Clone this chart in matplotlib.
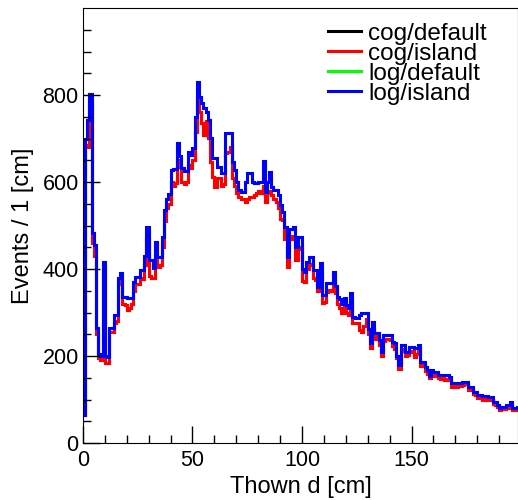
import numpy as np
import matplotlib.pyplot as plt

plt.rcParams['font.family'] = ['Liberation Sans', 'DejaVu Sans']

# 200 bins of 1 cm
bin_edges = np.arange(0, 201, 1)

# log/island (blue, drawn on top)
log_island = [
    65, 700, 742, 802, 483, 455, 265, 205, 200, 415, 200, 198, 264, 264, 294, 294, 379, 390, 336, 336, 333, 333, 333, 370, 382,
    382, 398, 398, 430, 497, 421, 421, 402, 462, 428, 428, 473, 536, 561, 572, 628, 630, 630, 690, 660, 632, 625, 625, 670, 662,
    678, 750, 830, 796, 781, 770, 760, 742, 702, 655, 655, 635, 635, 620, 620, 712, 712, 712, 646, 627, 600, 582, 577, 577, 600,
    620, 620, 601, 597, 597, 601, 601, 649, 578, 600, 624, 589, 582, 582, 570, 547, 532, 497, 428, 493, 493, 497, 451, 474, 474,
    400, 394, 417, 428, 428, 398, 398, 359, 413, 340, 340, 367, 367, 367, 394, 360, 336, 330, 320, 333, 318, 310, 344, 290, 287,
    287, 294, 298, 298, 298, 263, 229, 279, 252, 252, 237, 210, 248, 248, 248, 248, 233, 229, 200, 180, 226, 226, 210, 210, 221,
    221, 218, 218, 225, 187, 187, 175, 168, 155, 168, 164, 164, 156, 156, 156, 156, 156, 152, 137, 137, 137, 137, 137, 140, 141,
    141, 129, 129, 118, 118, 110, 110, 107, 107, 107, 105, 105, 95, 95, 87, 80, 83, 83, 87, 87, 95, 80, 80, 83, 83,
]

# cog/island (red)
cog_island = [
    65, 685, 680, 780, 460, 430, 250, 195, 190, 400, 185, 185, 255, 255, 275, 280, 365, 375, 320, 318, 305, 310, 320, 350, 365,
    365, 380, 378, 410, 470, 385, 380, 380, 430, 405, 410, 450, 510, 540, 550, 600, 590, 598, 650, 635, 600, 595, 600, 640, 632,
    650, 715, 790, 760, 735, 708, 740, 702, 646, 611, 589, 610, 610, 590, 595, 666, 670, 680, 610, 590, 575, 565, 560, 560, 555,
    560, 565, 565, 570, 575, 580, 575, 590, 555, 575, 580, 570, 560, 555, 540, 515, 512, 470, 405, 470, 475, 470, 420, 445, 450,
    372, 370, 400, 412, 410, 380, 375, 350, 395, 322, 325, 348, 352, 350, 375, 345, 320, 310, 300, 318, 300, 295, 325, 275, 275,
    275, 260, 255, 270, 285, 250, 218, 262, 240, 245, 225, 200, 235, 240, 238, 236, 222, 215, 195, 171, 212, 215, 200, 202, 210,
    212, 198, 205, 215, 178, 180, 165, 158, 150, 160, 155, 158, 150, 148, 150, 145, 148, 145, 128, 130, 128, 132, 130, 133, 136,
    135, 122, 123, 112, 110, 103, 105, 100, 102, 100, 98, 100, 90, 88, 82, 76, 78, 79, 82, 80, 88, 76, 77, 78, 80,
]

# the default clustering curves are hidden under the island ones
cog_default = cog_island
log_default = log_island

labels = ['cog/default', 'cog/island', 'log/default', 'log/island']
colors = ['black', 'red', '#00ff00', 'blue']

fig = plt.figure(figsize=(5.18, 5.0), dpi=100)
ax = fig.add_axes([0.160, 0.114, 0.840, 0.870])

for vals, lab, col in zip([cog_default, cog_island, log_default, log_island], labels, colors):
    ax.stairs(vals, bin_edges, baseline=None, color=col, lw=2.2, label=lab)

ax.set_xlim(0, 198.6)
ax.set_ylim(0, 1000)
ax.set_xticks([0, 50, 100, 150])
ax.set_xticks(np.arange(0, 200, 10), minor=True)
ax.set_yticks([0, 200, 400, 600, 800])
ax.set_yticks(np.arange(0, 1000, 50), minor=True)
ax.tick_params(which='major', direction='in', length=12, width=1, labelsize=15.5)
ax.tick_params(which='minor', direction='in', length=6, width=1)
ax.tick_params(axis='y', pad=3)
ax.tick_params(axis='x', pad=5)

ax.set_xlabel('Thown d [cm]', fontsize=17, labelpad=4)
ax.set_ylabel('Events / 1 [cm]', fontsize=17, labelpad=6)

ax.legend(loc='upper left', bbox_to_anchor=(0.633, 0.955), bbox_transform=fig.transFigure,
          frameon=False, fontsize=17.5, handlelength=1.35, handletextpad=0.3,
          labelspacing=-0.08, borderpad=0, borderaxespad=0)

fig.savefig('out.png', dpi=100)
